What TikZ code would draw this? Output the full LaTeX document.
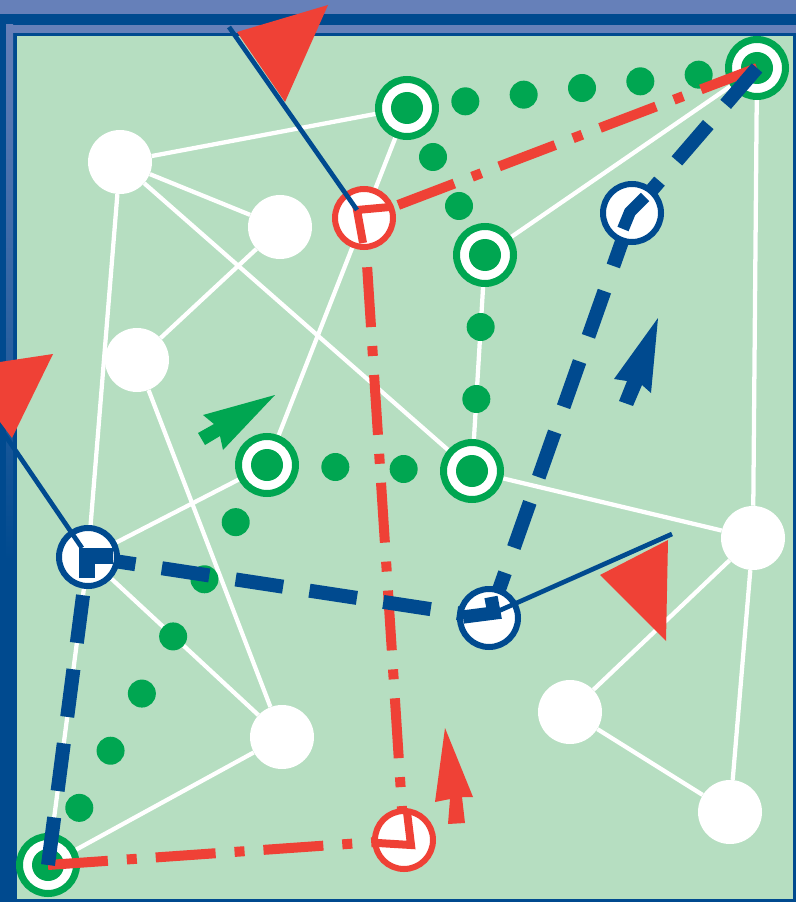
\documentclass[tikz,border=0pt]{standalone}
\usepackage{tikz}
\usetikzlibrary{calc}

\definecolor{fieldgreen}{HTML}{B6DEC1}
\definecolor{dotgreen}{HTML}{00A651}
\definecolor{flagred}{HTML}{EF4136}
\definecolor{framedark}{HTML}{004A8F}
\definecolor{framelight}{HTML}{6680B9}

\pgfdeclarelayer{frame}
\pgfdeclarelayer{edges}
\pgfdeclarelayer{lower}
\pgfdeclarelayer{dashes}
\pgfsetlayers{frame,edges,lower,dashes,main}

\begin{document}
\begin{tikzpicture}[
    x=0.75pt, y=-0.75pt,
    spot/.style={circle, fill=white, minimum size=48pt, inner sep=0pt},
    ringnode/.style={circle, draw=dotgreen, line width=5.25pt, fill=white,
        minimum size=42.75pt, inner sep=0pt,
        path picture={\fill[dotgreen] (path picture bounding box.center) circle (12pt);}},
    redclock/.style={circle, draw=flagred, line width=4.5pt, fill=white, minimum size=43.5pt, inner sep=0pt},
    blueclock/.style={circle, draw=framedark, line width=4.5pt, fill=white, minimum size=43.5pt, inner sep=0pt},
    trail/.style={white, line width=3.2pt},
    reddash/.style={flagred, line width=7.5pt, dash pattern=on 45pt off 14.25pt on 7.5pt off 14.25pt},
    bluedash/.style={framedark, line width=10.5pt, dash pattern=on 36pt off 20pt},
    pole/.style={framedark, line width=3.5pt},
    redhand/.style={flagred, line width=6pt},
    bluehand/.style={framedark, line width=9pt}
]
\useasboundingbox (0,0) rectangle (796,902);

% frame
\begin{pgfonlayer}{frame}
\fill[framelight] (0,0) rectangle (796,14);
\fill[framedark] (0,14) rectangle (796,902);
\fill[framelight] (6,25) rectangle (796,33);
\shade[top color=framelight, bottom color=framedark] (6,25) rectangle (13,560);
\fill[fieldgreen] (17,36) rectangle (793,899);
\end{pgfonlayer}

% plain and ringed spots
\begin{pgfonlayer}{lower}
\node[spot] (W1) at (120,162) {};
\node[spot] (W2) at (280,227) {};
\node[spot] (W3) at (137,360) {};
\node[spot] (W4) at (282,737) {};
\node[spot] (W5) at (753,538) {};
\node[spot] (W6) at (570,712) {};
\node[spot] (W7) at (730,812) {};

\node[ringnode] (G1) at (407,108) {};
\node[ringnode] (G2) at (485,255) {};
\node[ringnode] (G3) at (267,465) {};
\node[ringnode] (G4) at (472,471) {};
\node[ringnode] (G5) at (757,68) {};
\node[ringnode] (G6) at (48,865) {};
\end{pgfonlayer}

% clock spots
\node[redclock] (R1) at (364,218) {};
\node[redclock] (R2) at (404,840) {};
\node[blueclock] (B1) at (632,213) {};
\node[blueclock] (B2) at (88,557) {};
\node[blueclock] (B3) at (489,618) {};

% white trails
\begin{pgfonlayer}{edges}
\foreach \a/\b in {W1/G1, W1/W2, W1/G4, W1/B2, W2/W3, W3/W4, G1/G3, G2/G5, G2/G4,
                   G3/B2, G4/W5, G5/W5, W5/W6, W5/W7, W6/W7, B2/W4, B2/G6, G6/W4}
    \draw[trail] (\a) -- (\b);

% green dotted routes
\foreach \a/\b/\n in {G1/G5/6, G1/G2/3, G2/G4/3, G4/G3/3, G3/G6/7} {
    \pgfmathtruncatemacro\last{\n-1}
    \foreach \k in {1,...,\last}
        \fill[dotgreen] ($(\a)!\k/\n!(\b)$) circle (10.5pt);
}
\end{pgfonlayer}

% red and blue routes
\begin{pgfonlayer}{dashes}
\draw[reddash] (G5.center) -- (R1.center);
\draw[reddash, dash phase=19.5pt] (R2.center) -- (R1.center);
\draw[reddash] (G6.center) -- (R2.center);

\draw[bluedash] (G6.center) -- (B2.center);
\draw[bluedash] (B2.center) -- (B3.center);
\draw[bluedash] (B3.center) -- (B1.center);
\draw[bluedash] (G5.center) -- (B1.center);
\end{pgfonlayer}

% clock hands
\draw[redhand] ([shift={(26,-11)}]R1.center) -- ++(-33,3) -- ++(6,33);
\draw[redhand] ([shift={(3,-28)}]R2.center) -- ++(4,33) -- ++(-33,-2);
\draw[bluehand] ([shift={(-9,16)}]B1.center) -- ++(7,-17) -- ++(15,-15);
\draw[bluehand, line width=12pt] ([shift={(25,-1)}]B2.center) -- ++(-26,0) -- ++(0,22);
\draw[bluehand, line width=10pt] ([shift={(-26,-1)}]B3.center) -- ++(31,-4) -- ++(-3,-16);

% flags
\coordinate (topstaff) at (229,27);
\coordinate (leftstaff) at (-38,372);
\coordinate (rightstaff) at (672,534);
\draw[pole] (topstaff) -- ([shift={(-7,-8)}]R1.center);
\draw[pole] (leftstaff) -- ([shift={(-6,-9)}]B2.center);
\draw[pole] (rightstaff) -- ([shift={(5,-5)}]B3.center);
\fill[flagred] (237,32) -- (328,5) -- (285,102) -- cycle;
\fill[flagred] (-40,368) -- (53,354) -- (12,438) -- cycle;
\fill[flagred] (600,575) -- (668,540) -- (666,641) -- cycle;

% pointers
\fill[dotgreen] (275,395) -- (203,415) -- (214,424) -- (198,433) -- (205,445) -- (220,436) -- (223,450) -- cycle;
\fill[framedark] (658,318) -- (614,379) -- (627,381) -- (619,401) -- (633,406) -- (642,385) -- (651,393) -- cycle;
\fill[flagred] (445,728) -- (435,802) -- (450,799) -- (448,824) -- (465,823) -- (462,797) -- (473,797) -- cycle;
\end{tikzpicture}
\end{document}
